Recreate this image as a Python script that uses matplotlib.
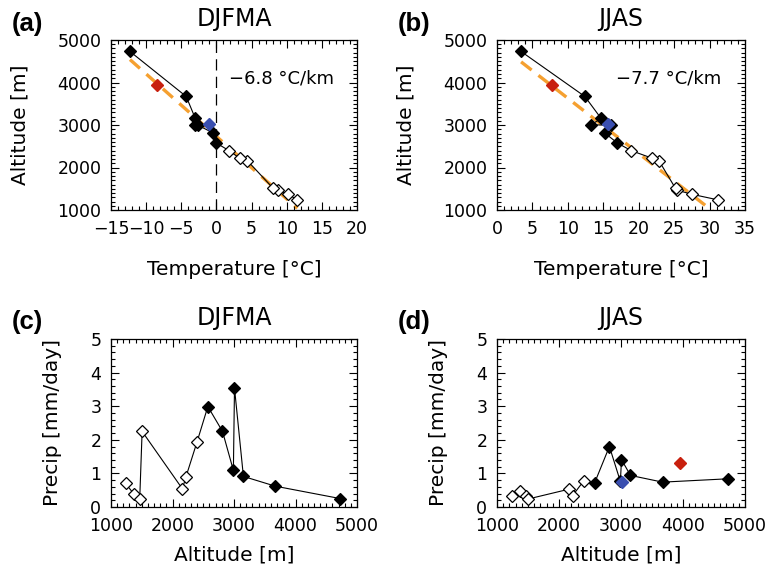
import matplotlib
matplotlib.use("Agg")
import matplotlib.pyplot as plt
import numpy as np
from matplotlib.ticker import MultipleLocator, AutoMinorLocator

# ---------------- data ----------------
altitude = [1238, 1370, 1467, 1506, 2161, 2219, 2396, 2575, 2813, 2990, 3008, 3153, 3671, 4730]
filled = [False, False, False, False, False, False, False, True, True, True, True, True, True, True]
temp_djfma = [11.5, 10.2, 8.8, 8.1, 4.4, 3.3, 1.8, 0.0, -0.45, -2.6, -3.0, -3.0, -4.3, -12.3]
temp_jjas = [31.2, 27.5, 25.4, 25.2, 22.85, 21.9, 18.95, 17.0, 15.2, 16.1, 13.3, 14.7, 12.4, 3.4]
precip_djfma = [0.70, 0.39, 0.24, 2.25, 0.54, 0.90, 1.92, 2.99, 2.25, 1.09, 3.54, 0.91, 0.62, 0.25]
precip_jjas = [0.34, 0.47, 0.32, 0.24, 0.53, 0.34, 0.77, 0.72, 1.80, 0.76, 1.41, 0.94, 0.74, 0.84]

red_alt = 3950
blue_alt = 3020
red_temp = [-8.4, 7.7]
blue_temp = [-1.0, 15.6]
red_precip_jjas = 1.31
blue_precip_jjas = 0.74

lapse_rate = [6.8, 7.7]          # degC per km
lapse_t3000 = [-1.83, 14.84]     # regression temperature at 3000 m
lapse_labels = ["\u22126.8 \u00b0C/km", "\u22127.7 \u00b0C/km"]
seasons = ["DJFMA", "JJAS"]
panel_letters = ["(a)", "(b)", "(c)", "(d)"]

RED = "#c8200e"
BLUE = "#3a4fb0"
ORANGE = "#f5a030"
MS = 6.5

W, H = 784, 571
fig = plt.figure(figsize=(W / 100, H / 100), dpi=100)
plt.rcParams['font.family'] = ['DejaVu Sans']


def ax_px(l, t, r, b):
    return fig.add_axes([l / W, 1 - b / H, (r - l) / W, (b - t) / H])


def style(ax, xmaj, xmin_n, ymaj, ymin_n):
    ax.xaxis.set_major_locator(MultipleLocator(xmaj))
    ax.xaxis.set_minor_locator(AutoMinorLocator(xmin_n))
    ax.yaxis.set_major_locator(MultipleLocator(ymaj))
    ax.yaxis.set_minor_locator(AutoMinorLocator(ymin_n))
    ax.tick_params(which='both', direction='in', top=True, right=True, labelsize=12.5, width=0.8)
    ax.tick_params(which='major', length=6, pad=7)
    ax.tick_params(which='minor', length=3)
    for s in ax.spines.values():
        s.set_linewidth(0.9)


def plot_stations(ax, x, y):
    ax.plot(x, y, color='black', lw=0.8, zorder=2)
    for xi, yi, f in zip(x, y, filled):
        ax.plot(xi, yi, marker='D', ms=MS, mec='black', mew=0.9,
                mfc='black' if f else 'white', zorder=3, linestyle='none')


axes_top = [ax_px(111, 40, 357, 210), ax_px(497, 40, 745, 210)]
axes_bot = [ax_px(111, 339, 357, 507), ax_px(497, 339, 745, 507)]
temps = [temp_djfma, temp_jjas]
precs = [precip_djfma, precip_jjas]
xlims = [(-15, 20), (0, 35)]

for i, ax in enumerate(axes_top):
    t = np.array(temps[i])
    # regression line over the data temperature range
    tr = np.array([t.min(), t.max()])
    zr = 3000 - (tr - lapse_t3000[i]) / lapse_rate[i] * 1000
    ax.plot(tr, zr, color=ORANGE, lw=2.4, dashes=(4, 2.6), zorder=1.5)
    if i == 0:
        ax.axvline(0, color='black', lw=0.9, dashes=(9, 5), zorder=1)
    plot_stations(ax, temps[i], altitude)
    ax.plot(red_temp[i], red_alt, marker='D', ms=MS, color=RED, mec=RED, zorder=3)
    ax.plot(blue_temp[i], blue_alt, marker='D', ms=MS, color=BLUE, mec=BLUE, zorder=3)
    ax.set_xlim(*xlims[i])
    ax.set_ylim(1000, 5000)
    style(ax, 5, 5, 1000, 10)
    ax.set_xlabel("Temperature [\u00b0C]", fontsize=14.5, labelpad=16)
    ax.set_ylabel("Altitude [m]", fontsize=14.5, labelpad=20)
    ax.set_title(seasons[i], fontsize=17, pad=10)
    ax.text(0.48, 0.745, lapse_labels[i], transform=ax.transAxes, fontsize=13)

for i, ax in enumerate(axes_bot):
    plot_stations(ax, altitude, precs[i])
    if i == 1:
        ax.plot(red_alt, red_precip_jjas, marker='D', ms=MS, color=RED, mec=RED, zorder=3)
        ax.plot(blue_alt, blue_precip_jjas, marker='D', ms=MS, color=BLUE, mec=BLUE, zorder=4)
    ax.set_xlim(1000, 5000)
    ax.set_ylim(0, 5)
    style(ax, 1000, 10, 1, 5)
    ax.set_xlabel("Altitude [m]", fontsize=14.5, labelpad=8)
    ax.set_ylabel("Precip [mm/day]", fontsize=14.5, labelpad=20)
    ax.set_title(seasons[i], fontsize=17, pad=10)

letter_pos = [(12, 24), (398, 24), (12, 322), (398, 322)]
for lbl, (x, y) in zip(panel_letters, letter_pos):
    fig.text(x / W, 1 - y / H, lbl, fontsize=18.5, fontweight='bold',
             family='Liberation Sans', va='center', ha='left')

fig.savefig("out.png", dpi=100)
